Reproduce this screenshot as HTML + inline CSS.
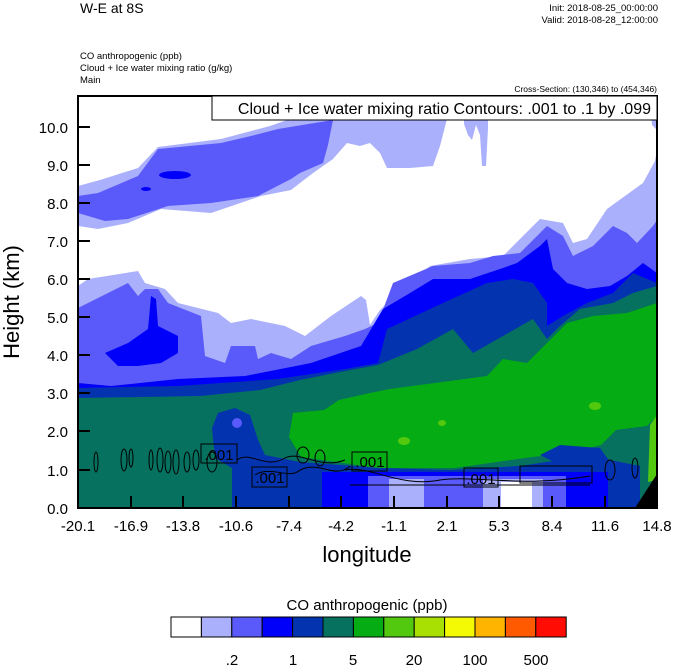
<!DOCTYPE html>
<html><head><meta charset="utf-8"><style>
html,body{margin:0;padding:0;background:#fff;}
svg{display:block;font-family:"Liberation Sans",sans-serif;}
</style></head><body>
<svg width="674" height="667" viewBox="0 0 674 667" xmlns="http://www.w3.org/2000/svg">
<defs><clipPath id="c"><rect x="78" y="96" width="579" height="412"/></clipPath></defs>
<rect width="674" height="667" fill="#fff"/>
<g clip-path="url(#c)" stroke="none">
<!-- upper band -->
<polygon fill="#aab0fb" points="78,186 100,180 138,168 158,147 221,139 270,126 290,119 447,119 440,146 433,166 410,168 387,168 380,153 370,143 360,146 347,143 333,159 313,173 300,183 291,190 261,196 211,213 161,209 128,223 98,229 78,226"/>
<polygon fill="#aab0fb" points="464,119 488,119 488,128 486,166 482,166 480,135 476,125 472,140 468,135 464,124"/>
<polygon fill="#5a5afa" points="78,196 98,193 138,176 158,149 221,143 251,136 278,129 333,120 328,145 323,163 300,173 291,179 258,196 211,203 168,206 128,219 105,221 78,213"/>
<ellipse cx="175" cy="175" rx="16" ry="4" fill="#0000fa"/>
<ellipse cx="146" cy="189" rx="5" ry="2" fill="#0000fa"/>
<polygon fill="#aab0fb" points="650,96 657,96 657,130 652,125"/>
<!-- lower layers -->
<polygon fill="#aab0fb" points="78,286 88,279 138,271 145,283 165,289 178,303 218,313 231,323 251,319 285,326 305,336 331,316 361,296 366,300 370,325 380,310 397,293 430,266 470,259 503,256 540,219 563,223 573,243 587,239 607,209 643,183 655,161 657,150 657,508 78,508"/>
<polygon fill="#5a5afa" points="78,308 128,283 138,296 145,289 158,289 168,303 201,316 205,356 225,363 231,346 255,346 258,359 271,353 291,359 311,346 345,336 365,329 378,323 393,283 433,266 470,263 493,256 520,253 547,226 563,236 573,256 593,246 613,226 627,233 637,243 653,226 657,220 657,508 78,508"/>
<polygon fill="#0000fa" points="105,353 128,343 148,329 151,296 156,299 158,326 178,336 178,353 161,363 138,366 118,366"/>
<polygon fill="#0000fa" points="78,383 111,386 178,379 245,376 311,363 361,346 383,309 410,293 433,279 470,279 500,269 517,263 540,246 547,239 553,269 567,283 587,289 610,286 627,276 643,263 657,273 657,508 78,508"/>
<polygon fill="#0433b0" points="78,388 178,386 278,379 345,369 378,363 387,329 443,303 487,283 513,279 533,283 547,303 547,326 563,316 587,303 613,293 633,273 657,283 657,508 78,508"/>
<polygon fill="#06715f" points="78,398 200,396 260,390 300,380 340,372 378,365 417,349 453,329 473,353 503,336 533,319 547,339 560,326 580,309 613,303 633,293 657,286 657,508 78,508"/>
<polygon fill="#06ac14" points="289,437 293,413 324,410 339,400 370,393 390,389 487,376 503,359 527,363 547,343 567,323 593,316 627,313 657,303 657,418 655,418 647,426 616,430 601,445 570,453 532,457 455,468 378,468 301,457"/>
<polygon fill="#52c80e" points="650,425 657,415 657,480 648,482"/>
<ellipse cx="404" cy="441" rx="6" ry="4" fill="#52c80e"/>
<ellipse cx="442" cy="423" rx="4" ry="3" fill="#52c80e"/>
<ellipse cx="595" cy="406" rx="6" ry="4" fill="#52c80e"/>
<polygon fill="#0433b0" points="232,508 232,468 215,458 212,428 218,413 235,408 250,415 258,440 265,455 300,462 380,468 450,470 520,466 560,460 600,458 640,466 640,508"/>
<ellipse cx="237" cy="423" rx="5" ry="5" fill="#5a5afa"/>
<polygon fill="#0433b0" points="540,455 560,445 600,448 610,462 560,465"/>
<rect x="322" y="472" width="286" height="36" fill="#0000fa"/>
<rect x="368" y="476" width="198" height="32" fill="#5a5afa"/>
<rect x="389" y="479" width="35" height="29" fill="#aab0fb"/>
<rect x="483" y="479" width="60" height="29" fill="#aab0fb"/>
<rect x="501" y="482" width="31" height="26" fill="#fff"/>
<polygon fill="#000" points="635,508 657,474 657,508"/>
</g>
<!-- contour lines -->
<g fill="none" stroke="#000" stroke-width="1">
<ellipse cx="96" cy="462" rx="2" ry="10"/>
<ellipse cx="124" cy="460" rx="3" ry="11"/><ellipse cx="131" cy="458" rx="2" ry="9"/>
<ellipse cx="151" cy="460" rx="2" ry="10"/><ellipse cx="160" cy="460" rx="3" ry="12"/>
<ellipse cx="168" cy="462" rx="3" ry="11"/><ellipse cx="176" cy="462" rx="3" ry="12"/>
<ellipse cx="187" cy="462" rx="3" ry="10"/><ellipse cx="196" cy="460" rx="3" ry="10"/>
<ellipse cx="212" cy="462" rx="5" ry="10"/>
<path d="M237,460 C250,450 265,470 285,458 C300,450 320,470 345,460"/>
<path d="M255,475 C270,465 290,480 300,470 C320,460 335,480 350,466"/>
<path d="M345,470 C370,465 400,488 440,480 C480,475 520,488 590,476"/>
<path d="M350,485 L590,485"/>
<rect x="520" y="466" width="72" height="17"/>
<ellipse cx="610" cy="470" rx="5" ry="10"/><ellipse cx="635" cy="468" rx="3" ry="10"/>
<ellipse cx="303" cy="455" rx="6" ry="8"/><ellipse cx="320" cy="458" rx="5" ry="8"/>
</g>
<g font-size="15" fill="#000">
<rect x="201" y="444" width="36" height="19" fill="none" stroke="#000"/><text x="219" y="460" text-anchor="middle">.001</text>
<rect x="252" y="467" width="35" height="20" fill="none" stroke="#000"/><text x="270" y="483" text-anchor="middle">.001</text>
<rect x="352" y="452" width="35" height="19" fill="none" stroke="#000"/><text x="370" y="467" text-anchor="middle">.001</text>
<rect x="464" y="468" width="34" height="19" fill="none" stroke="#000"/><text x="481" y="484" text-anchor="middle">.001</text>
</g>
<!-- frame -->
<rect x="78" y="96" width="579" height="412" fill="none" stroke="#000" stroke-width="2"/>
<rect x="212" y="96" width="445" height="24" fill="#fff" stroke="#000" stroke-width="1"/>
<text x="651" y="114" text-anchor="end" font-size="16">Cloud + Ice water mixing ratio Contours: .001 to .1 by .099</text>
<g stroke="#000" stroke-width="2">
<line x1="78" y1="127" x2="90" y2="127"/><line x1="78" y1="165" x2="90" y2="165"/><line x1="78" y1="203" x2="90" y2="203"/><line x1="78" y1="241" x2="90" y2="241"/><line x1="78" y1="279" x2="90" y2="279"/><line x1="78" y1="317" x2="90" y2="317"/><line x1="78" y1="355" x2="90" y2="355"/><line x1="78" y1="393" x2="90" y2="393"/><line x1="78" y1="431" x2="90" y2="431"/><line x1="78" y1="470" x2="90" y2="470"/>
<line x1="131" y1="508" x2="131" y2="496"/><line x1="183" y1="508" x2="183" y2="496"/><line x1="236" y1="508" x2="236" y2="496"/><line x1="289" y1="508" x2="289" y2="496"/><line x1="341" y1="508" x2="341" y2="496"/><line x1="394" y1="508" x2="394" y2="496"/><line x1="447" y1="508" x2="447" y2="496"/><line x1="499" y1="508" x2="499" y2="496"/><line x1="552" y1="508" x2="552" y2="496"/><line x1="605" y1="508" x2="605" y2="496"/>
</g>
<g font-size="15" text-anchor="end">
<text x="68" y="133">10.0</text><text x="68" y="171">9.0</text><text x="68" y="209">8.0</text><text x="68" y="247">7.0</text><text x="68" y="285">6.0</text><text x="68" y="323">5.0</text><text x="68" y="361">4.0</text><text x="68" y="399">3.0</text><text x="68" y="437">2.0</text><text x="68" y="476">1.0</text><text x="68" y="514">0.0</text>
</g>
<g font-size="15" text-anchor="middle">
<text x="78" y="531">-20.1</text><text x="131" y="531">-16.9</text><text x="183" y="531">-13.8</text><text x="236" y="531">-10.6</text><text x="289" y="531">-7.4</text><text x="341" y="531">-4.2</text><text x="394" y="531">-1.1</text><text x="447" y="531">2.1</text><text x="499" y="531">5.3</text><text x="552" y="531">8.4</text><text x="605" y="531">11.6</text><text x="657" y="531">14.8</text>
</g>
<text x="367" y="562" text-anchor="middle" font-size="22">longitude</text>
<text transform="translate(19,302) rotate(-90)" text-anchor="middle" font-size="22">Height (km)</text>
<text x="80" y="13" font-size="14">W-E at 8S</text>
<text x="658" y="11" font-size="9.5" text-anchor="end">Init: 2018-08-25_00:00:00</text>
<text x="658" y="23" font-size="9.5" text-anchor="end">Valid: 2018-08-28_12:00:00</text>
<text x="80" y="59" font-size="9.5">CO anthropogenic   (ppb)</text>
<text x="80" y="71" font-size="9.5">Cloud + Ice water mixing ratio   (g/kg)</text>
<text x="80" y="83" font-size="9.5">Main</text>
<text x="657" y="92" font-size="8.5" text-anchor="end">Cross-Section: (130,346) to (454,346)</text>
<!-- colorbar -->
<text x="367" y="610" text-anchor="middle" font-size="15">CO anthropogenic  (ppb)</text>
<g stroke="#000" stroke-width="1">
<rect x="171" y="617" width="30.4" height="20" fill="#ffffff"/>
<rect x="201.4" y="617" width="30.4" height="20" fill="#aab0fb"/>
<rect x="231.8" y="617" width="30.4" height="20" fill="#5a5afa"/>
<rect x="262.2" y="617" width="30.4" height="20" fill="#0000fa"/>
<rect x="292.6" y="617" width="30.4" height="20" fill="#0433b0"/>
<rect x="323" y="617" width="30.4" height="20" fill="#06715f"/>
<rect x="353.4" y="617" width="30.4" height="20" fill="#06ac14"/>
<rect x="383.8" y="617" width="30.4" height="20" fill="#52c80e"/>
<rect x="414.2" y="617" width="30.4" height="20" fill="#a8e004"/>
<rect x="444.6" y="617" width="30.4" height="20" fill="#f4fa04"/>
<rect x="475" y="617" width="30.4" height="20" fill="#ffb400"/>
<rect x="505.4" y="617" width="30.4" height="20" fill="#ff5a00"/>
<rect x="535.8" y="617" width="30.4" height="20" fill="#ff0c04"/>
</g>
<g font-size="15" text-anchor="middle">
<text x="232" y="665">.2</text><text x="293" y="665">1</text><text x="353" y="665">5</text><text x="414" y="665">20</text><text x="475" y="665">100</text><text x="536" y="665">500</text>
</g>
</svg>
</body></html>
